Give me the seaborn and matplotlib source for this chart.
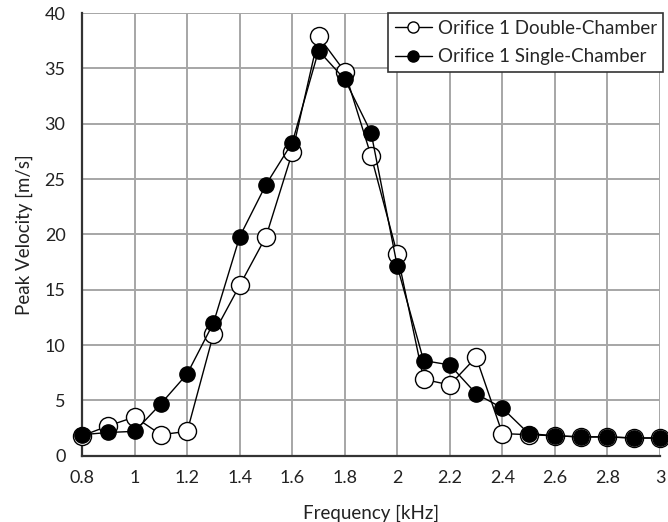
import numpy as np
import pandas as pd
import matplotlib
matplotlib.use("Agg")
import matplotlib.pyplot as plt
import seaborn as sns

# Frequency sweep [kHz]
frequency = [0.8, 0.9, 1.0, 1.1, 1.2, 1.3, 1.4, 1.5, 1.6, 1.7, 1.8, 1.9,
             2.0, 2.1, 2.2, 2.3, 2.4, 2.5, 2.6, 2.7, 2.8, 2.9, 3.0]

# Peak velocity [m/s]
double_chamber = [1.8, 2.7, 3.5, 1.9, 2.2, 11.0, 15.4, 19.8, 27.4, 37.9, 34.7, 27.1,
                  18.2, 6.9, 6.4, 8.9, 2.0, 1.9, 1.8, 1.7, 1.7, 1.6, 1.6]
single_chamber = [1.9, 2.1, 2.2, 4.7, 7.4, 12.0, 19.8, 24.5, 28.3, 36.6, 34.0, 29.2,
                  17.1, 8.6, 8.2, 5.6, 4.3, 2.0, 1.8, 1.7, 1.7, 1.6, 1.6]

series_names = ["Orifice 1 Double-Chamber", "Orifice 1 Single-Chamber"]
x_ticks = [0.8, 1.0, 1.2, 1.4, 1.6, 1.8, 2.0, 2.2, 2.4, 2.6, 2.8, 3.0]
x_tick_labels = ["0.8", "1", "1.2", "1.4", "1.6", "1.8", "2", "2.2", "2.4", "2.6", "2.8", "3"]
y_ticks = [0, 5, 10, 15, 20, 25, 30, 35, 40]

df = pd.DataFrame({
    "Frequency": frequency * 2,
    "Velocity": double_chamber + single_chamber,
    "Series": [series_names[0]] * len(frequency) + [series_names[1]] * len(frequency),
})

sns.set_theme(style="white")
plt.rcParams["font.family"] = ["Lato", "DejaVu Sans"]

fig = plt.figure(figsize=(6.68, 5.22), dpi=100)
ax = fig.add_axes([0.123, 0.127, 0.865, 0.848])

styles = {
    series_names[0]: dict(marker="o", markersize=13, markerfacecolor="white",
                          markeredgecolor="black", markeredgewidth=1.0),
    series_names[1]: dict(marker="o", markersize=11, markerfacecolor="black",
                          markeredgecolor="black", markeredgewidth=1.0),
}

for name in series_names:
    sub = df[df["Series"] == name]
    sns.lineplot(data=sub, x="Frequency", y="Velocity", ax=ax, color="black",
                 linewidth=1.0, label=name, sort=False, **styles[name])

ax.set_xlim(0.8, 3.0)
ax.set_ylim(0, 40)
ax.set_xticks(x_ticks)
ax.set_xticklabels(x_tick_labels)
ax.set_yticks(y_ticks)

ax.grid(True, color="#a6a6a6", linewidth=1.4)
ax.set_axisbelow(True)
for side in ["top", "right"]:
    ax.spines[side].set_visible(False)
for side in ["left", "bottom"]:
    ax.spines[side].set_color("#333333")
    ax.spines[side].set_linewidth(1.6)
    ax.spines[side].set_zorder(1)

ax.tick_params(axis="both", direction="in", length=5, width=1.2, color="#333333",
               labelsize=13, labelcolor="#222222")
ax.tick_params(axis="x", pad=10)
ax.tick_params(axis="y", pad=12)

ax.set_xlabel("Frequency [kHz]", fontsize=13.5, color="#222222", labelpad=14)
ax.set_ylabel("Peak Velocity [m/s]", fontsize=13.5, color="#222222", labelpad=8)

for line in ax.lines:
    line.set_clip_on(False)

leg = ax.legend(loc="upper right", fontsize=13.5, frameon=True, fancybox=False,
                edgecolor="#333333", framealpha=1.0, borderpad=0.35,
                handlelength=2.0, handletextpad=0.3, labelspacing=0.62,
                borderaxespad=0.0, bbox_to_anchor=(1.006, 1.0))
leg.get_frame().set_linewidth(1.2)
for h in leg.legend_handles:
    h.set_markersize(8)

fig.savefig("out.png", dpi=100)
